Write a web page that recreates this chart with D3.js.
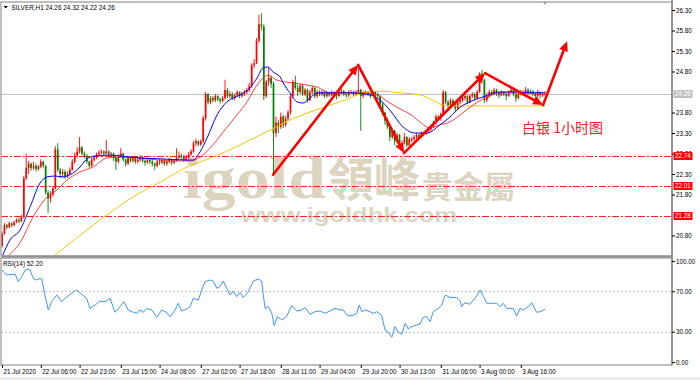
<!DOCTYPE html>
<html>
<head>
  <meta charset="utf-8">
  <title>SILVER H1</title>
  <style type="text/css">
    body { margin:0; background:#fff; }
    svg { display:block; font-family:"Liberation Sans", Arial, sans-serif; }
  </style>
</head>
<body>
<script src="https://cdnjs.cloudflare.com/ajax/libs/d3/7.8.5/d3.min.js"></script>
<svg id="chart" width="700" height="380"></svg>
<script>
// ---- data ----
// hourly bars, bar index 0..224 (open of a bar = close of previous bar)
var firstOpen = 20.55;
var closes = [
  20.85,21.05,21.0,21.1,21.05,21.12,21.18,21.15,21.25,22.2,
  22.45,22.55,22.45,22.5,22.42,22.48,22.6,22.5,21.85,21.7,
  21.8,21.95,22.9,22.4,22.3,22.35,22.25,22.3,22.4,22.6,
  22.75,22.85,22.95,22.8,22.75,22.6,22.5,22.65,22.7,22.78,
  22.82,22.85,22.8,22.85,22.78,22.8,22.7,22.6,22.72,22.8,
  22.65,22.55,22.7,22.62,22.68,22.6,22.65,22.7,22.62,22.58,
  22.65,22.6,22.55,22.5,22.6,22.58,22.62,22.55,22.6,22.65,
  22.58,22.62,22.7,22.75,22.72,22.65,22.7,22.78,22.85,23.05,
  23.1,23.02,23.1,23.66,24.25,24.05,24.15,24.1,24.2,24.12,
  24.08,24.15,24.35,24.2,24.25,24.15,24.22,24.3,24.2,24.25,
  24.3,24.35,24.45,24.95,25.0,25.55,25.95,25.9,24.2,24.55,
  24.65,24.5,23.3,23.55,23.45,23.7,23.5,23.65,23.8,24.2,
  24.55,24.4,24.3,24.45,24.25,24.35,24.1,24.3,24.4,24.2,
  24.3,24.25,24.3,24.2,24.28,24.22,24.3,24.25,24.2,24.28,
  24.32,24.25,24.22,24.3,24.3,24.25,24.3,24.35,24.2,24.28,
  24.3,24.25,24.22,24.3,24.25,24.2,24.0,23.8,23.6,23.45,
  23.2,23.35,23.1,23.25,23.0,23.05,23.2,23.0,23.15,23.15,
  23.2,23.25,23.2,23.3,23.28,23.35,23.4,23.45,23.55,23.7,
  23.65,23.75,24.3,24.05,23.95,24.1,24.0,23.9,24.05,24.1,
  24.15,24.2,24.05,24.2,24.25,24.15,24.3,24.75,24.6,24.1,
  24.2,24.3,24.25,24.35,24.28,24.22,24.3,24.25,24.2,24.3,
  24.35,24.25,24.15,24.25,24.3,24.28,24.35,24.3,24.32,24.25,
  24.2,24.3,24.22,24.26,24.26
];
var highs = [
  20.9,21.1,21.08,21.14,21.12,21.16,21.22,21.24,21.3,22.25,
  22.8,22.62,22.58,22.6,22.55,22.52,22.66,22.62,22.52,21.9,
  21.88,22.0,22.98,23.05,22.45,22.42,22.4,22.36,22.46,22.66,
  22.82,22.95,23.2,22.98,22.85,22.78,22.62,22.7,22.76,22.82,
  22.88,22.9,22.88,23.13,22.88,22.84,22.82,22.72,22.78,22.93,
  22.82,22.68,22.74,22.72,22.72,22.7,22.7,22.76,22.74,22.66,
  22.7,22.68,22.64,22.58,22.64,22.66,22.68,22.66,22.64,22.7,
  22.68,22.66,22.93,22.85,22.8,22.76,22.76,22.84,22.9,23.1,
  23.16,23.12,23.14,23.72,24.3,24.28,24.2,24.2,24.25,24.22,
  24.16,24.2,24.6,24.4,24.32,24.3,24.26,24.34,24.32,24.3,
  24.35,24.4,24.52,25.0,25.1,25.62,26.18,26.22,25.95,24.6,
  24.9,24.7,24.55,23.7,23.62,23.8,23.75,23.72,23.86,24.25,
  24.6,24.7,24.48,24.5,24.5,24.4,24.38,24.35,24.45,24.42,
  24.35,24.34,24.35,24.34,24.32,24.3,24.34,24.32,24.28,24.32,
  24.38,24.35,24.28,24.34,24.35,24.32,24.35,24.9,24.38,24.32,
  24.34,24.32,24.28,24.34,24.32,24.28,24.22,24.05,23.82,23.65,
  23.5,23.4,23.38,23.3,23.28,23.12,23.3,23.22,23.2,23.2,
  23.25,23.3,23.28,23.34,23.34,23.4,23.45,23.5,23.6,23.75,
  23.74,23.8,24.35,24.32,24.1,24.15,24.12,24.05,24.1,24.16,
  24.2,24.25,24.22,24.25,24.3,24.28,24.35,24.78,24.84,24.62,
  24.28,24.35,24.34,24.4,24.38,24.3,24.34,24.32,24.28,24.34,
  24.42,24.38,24.28,24.3,24.35,24.34,24.42,24.4,24.36,24.34,
  24.3,24.35,24.32,24.3,24.32
];
var lows = [
  20.5,20.82,20.95,20.98,21.0,21.02,21.1,21.1,21.12,21.22,
  22.15,22.3,22.38,22.4,22.36,22.38,22.44,22.45,21.8,21.35,
  21.6,21.75,21.92,22.35,22.2,22.22,22.18,22.2,22.28,22.38,
  22.55,22.7,22.8,22.75,22.68,22.55,22.45,22.48,22.6,22.66,
  22.75,22.78,22.74,22.78,22.72,22.72,22.62,22.4,22.56,22.7,
  22.6,22.48,22.52,22.58,22.58,22.55,22.56,22.6,22.58,22.5,
  22.55,22.54,22.48,22.4,22.46,22.52,22.54,22.5,22.5,22.56,
  22.52,22.54,22.6,22.66,22.65,22.6,22.62,22.66,22.74,22.82,
  22.98,22.98,22.98,23.05,23.6,24.0,24.0,24.05,24.05,24.08,
  24.02,24.05,24.12,24.15,24.15,24.1,24.1,24.18,24.15,24.16,
  24.2,24.25,24.3,24.4,24.88,24.98,25.5,25.8,24.1,24.15,
  24.45,24.4,22.28,23.2,23.3,23.4,23.42,23.45,23.6,23.75,
  24.15,24.35,24.2,24.25,24.2,24.2,24.05,24.08,24.25,24.15,
  24.15,24.2,24.2,24.15,24.16,24.18,24.2,24.2,24.12,24.18,
  24.24,24.2,24.16,24.18,24.25,24.2,24.2,24.28,23.35,24.15,
  24.22,24.2,24.15,24.2,24.2,24.15,23.95,23.75,23.5,23.4,
  23.1,23.15,23.0,23.05,22.96,22.95,23.02,22.96,22.98,23.08,
  23.1,23.15,23.15,23.18,23.22,23.25,23.3,23.35,23.42,23.5,
  23.6,23.6,23.72,24.0,23.9,23.92,23.95,23.82,23.86,24.0,
  24.05,24.1,24.0,24.02,24.15,24.1,24.12,24.28,24.5,24.03,
  24.05,24.15,24.2,24.22,24.2,24.15,24.2,24.2,24.1,24.18,
  24.28,24.2,24.06,24.12,24.22,24.2,24.25,24.25,24.25,24.2,
  24.12,24.18,24.15,24.18,24.22
];

// moving averages, [bar index, price]
var maFast = [[0,20.28],[3.3,20.69],[7.4,20.93],[11.6,21.5],[15.7,22.08],[18.6,22.23],[21.9,22.25],[25.2,22.23],[28.1,22.28],[32.2,22.47],[35.5,22.69],[39.2,22.74],[43.3,22.76],[48.7,22.74],[56.9,22.69],[65.2,22.67],[76.3,22.64],[78.8,22.64],[81.7,22.84],[84.6,23.18],[88.7,23.74],[92.8,24.06],[98.2,24.23],[102.3,24.4],[105.2,24.64],[107.7,24.89],[109.7,24.91],[111.8,24.79],[114.7,24.67],[116,24.52],[118.8,24.28],[121.7,24.06],[124.2,24.03],[127,24.15],[130,24.28],[135.3,24.28],[143.6,24.28],[151.8,24.23],[156,24.1],[160,23.86],[165.4,23.45],[170.4,23.3],[175.3,23.3],[180.7,23.5],[184.8,23.69],[189,23.93],[193,24.06],[198.4,24.18],[205.4,24.3],[212.5,24.3],[219,24.28],[224,24.28]];
var maSlow = [[2.1,20.28],[7.4,20.62],[12.8,21.25],[18.6,21.74],[22.7,21.91],[26.8,22.15],[32.2,22.35],[37.5,22.47],[43.3,22.69],[48.7,22.71],[56.9,22.69],[69.3,22.62],[77.6,22.62],[81.7,22.71],[85.8,22.93],[91.2,23.32],[96.9,23.74],[101.1,24.06],[104.4,24.4],[107.7,24.64],[109.7,24.71],[113.4,24.59],[120,24.52],[125.8,24.47],[130,24.42],[135.3,24.28],[148.9,24.28],[154.7,24.23],[160,24.03],[165.4,23.85],[168.3,23.76],[172.4,23.57],[176.6,23.42],[180.7,23.5],[184.8,23.57],[189,23.74],[194.3,23.98],[200.1,24.18],[205.4,24.28],[212.5,24.28],[224,24.23]];
var maLong = [[21,20.28],[33.4,20.86],[43.3,21.3],[54,21.74],[65.2,22.1],[76.3,22.47],[87,22.71],[98.2,23.01],[110.6,23.37],[118.8,23.62],[127,23.81],[135.3,23.98],[143.6,24.15],[148.9,24.28],[156,24.32],[164.2,24.28],[172.4,24.23],[177.8,24.1],[181.9,23.98],[186.9,23.96],[224,23.96]];

// RSI(14), [bar index, value]
var rsi = [[0,91.1],[1.9,86.1],[5.4,87.1],[6.7,79.5],[8.1,84.5],[9.9,92.1],[11.6,91.1],[12.9,82.8],[14.3,81.2],[15.7,82.8],[16.4,82.2],[17.7,66.3],[19.1,51.5],[20.5,59.7],[22.6,66.3],[24.6,59.7],[26,63],[28.1,67],[30.8,71.3],[32.9,67],[34.9,63],[36.3,53.1],[38.4,56.4],[40.4,60.4],[42.5,59.7],[44.6,63],[46.6,49.2],[48.7,54.8],[50.3,59.7],[52.1,51.5],[54.2,49.2],[55.6,48.2],[56.9,51.5],[58.3,49.2],[59.7,53.1],[61.8,51.5],[63.8,44.2],[65.9,51.5],[67.9,49.2],[69.3,44.9],[71.4,51.5],[72.7,58.1],[74.1,50.5],[76.2,52.5],[77.6,54.8],[78.9,63],[81,61.4],[82.4,71.3],[83.7,79.5],[85.8,81.2],[87.2,80.2],[88.6,72.9],[89.9,74.6],[91.3,80.2],[92.7,72.9],[94.1,66.3],[95.4,70.3],[96.8,64.7],[98.2,69],[99.5,63.7],[101.6,69.6],[103.7,80.2],[105.7,82.2],[107.1,80.2],[108.5,53.1],[109.9,54.8],[111.3,48.2],[112.3,36],[113.6,44.9],[115.4,41.6],[117.4,44.9],[119.5,55.8],[121.6,50.5],[123.6,51.5],[125,53.8],[127.1,47.2],[129.1,49.8],[131.2,50.5],[133.2,48.2],[135.3,50.5],[137.4,53.1],[139.4,51.5],[140.8,51.5],[142.2,46.5],[143.6,45.5],[144.9,46.5],[146.3,48.2],[147.4,56.4],[148.4,49.8],[149.8,51.5],[151.8,49.8],[153.2,48.2],[154.6,49.8],[156.6,46.5],[158,31.7],[159.4,29.4],[160.8,24.5],[162.1,35],[163.5,29.4],[164.9,27.4],[166.3,38.3],[167.6,32.7],[169,35],[171.1,36.6],[172.4,37.6],[173.8,44.2],[175.2,44.9],[176.6,39.9],[177.9,49.8],[180,53.1],[181.4,56.4],[182.8,66.3],[184.8,64],[187.6,63.7],[189,60.4],[189.6,54.8],[191,58.7],[193,57.1],[195.1,63],[196.5,68],[197.2,71.3],[198.6,64.7],[200,58.1],[202,58.1],[204.1,58.1],[205.4,54.8],[206.8,58.1],[208.2,53.1],[210.9,53.1],[212.3,45.5],[213.7,53.1],[215.1,51.5],[217.2,54.8],[218.5,58.7],[220.6,49.2],[222,49.8],[224,52.2]];

// horizontal levels and analyst arrows
var levels = [22.74, 22.01, 21.28];
var arrowPts = [[111.8,22.28],[146.9,24.96],[165.8,22.81],[199.3,24.76],[223.2,23.98],[233.1,25.54]];

// axis labels (24.30 and 21.30 sit under the price boxes)
var priceTicks = [26.3, 25.8, 25.3, 24.8, 23.8, 23.3, 22.8, 22.3, 21.8, 20.8];
var rsiTicks = [100, 70, 30, 0];
var rsiLevels = [70, 30];
var timeIdx = [0,16,32,49,65,82,98,115,131,148,164,181,197,214];
var timeLabels = ['21 Jul 2020','22 Jul 06:00','22 Jul 23:00','23 Jul 15:00','24 Jul 08:00','27 Jul 02:00','27 Jul 18:00','28 Jul 11:00','29 Jul 04:00','29 Jul 20:00','30 Jul 13:00','31 Jul 06:00','3 Aug 00:00','3 Aug 16:00'];

// ---- layout ----
var axisX = 672, mainT = 2, mainB = 256, rsiT = 258, rsiB = 365;
var svg = d3.select('#chart');
var fmt = d3.format('.2f');

var x = d3.scaleLinear().domain([0, 224]).range([2, 545]);
var y = d3.scaleLinear().domain([20.8, 26.3]).range([235.5, 10]);
var yr = d3.scaleLinear().domain([0, 100]).range([362, 261]);

var defs = svg.append('defs');
defs.append('clipPath').attr('id','clipMain').append('rect')
  .attr('x',1.5).attr('y',mainT+0.5).attr('width',axisX-2).attr('height',mainB-mainT-1.5);
defs.append('clipPath').attr('id','clipRsi').append('rect')
  .attr('x',1.5).attr('y',rsiT+0.5).attr('width',axisX-2).attr('height',rsiB-rsiT-1);

var bars = closes.map(function(c,i){
  return {i:i, o: i==0 ? firstOpen : closes[i-1], h:highs[i], l:lows[i], c:c};
});

// ---- main panel ----
var main = svg.append('g').attr('clip-path','url(#clipMain)');

// watermark
var wm = main.append('g').attr('fill','#ddd4bf');
wm.append('text').attr('x',183).attr('y',198)
  .attr('font-family','"Liberation Serif", serif').attr('font-weight','bold')
  .attr('font-size',60).attr('textLength',143).attr('lengthAdjust','spacingAndGlyphs')
  .text('igold');
wm.append('text').attr('x',328).attr('y',196)
  .attr('font-family','"Noto Sans CJK TC"').attr('font-weight','bold').attr('font-size',46)
  .text('領峰');
wm.append('text').attr('x',422).attr('y',198)
  .attr('font-family','"Noto Sans CJK TC"').attr('font-weight','bold').attr('font-size',31)
  .text('貴金屬');
wm.append('text').attr('x',241).attr('y',222)
  .attr('font-family','"Liberation Sans", sans-serif').attr('font-weight','bold')
  .attr('font-size',21).attr('textLength',216).attr('lengthAdjust','spacingAndGlyphs')
  .text('www.igoldhk.com');

// dash-dot levels
main.selectAll('line.level').data(levels).enter().append('line')
  .attr('class','level')
  .attr('x1',1).attr('x2',axisX)
  .attr('y1',function(d){ return Math.round(y(d))+0.5; })
  .attr('y2',function(d){ return Math.round(y(d))+0.5; })
  .attr('stroke','#ff2020').attr('stroke-width',1)
  .attr('stroke-dasharray','7,2,2,2');

// bid line
var last = bars[bars.length-1];
main.append('line')
  .attr('x1',1).attr('x2',axisX)
  .attr('y1',Math.round(y(last.c))+0.5).attr('y2',Math.round(y(last.c))+0.5)
  .attr('stroke','#c0c0c0').attr('stroke-width',1);

// candles
var cg = main.append('g');
var upCol = '#ff0000', dnCol = '#008000';
cg.selectAll('line.wick').data(bars).enter().append('line')
  .attr('class','wick')
  .attr('x1',function(d){ return x(d.i); }).attr('x2',function(d){ return x(d.i); })
  .attr('y1',function(d){ return y(Math.max(d.h,d.o,d.c)); })
  .attr('y2',function(d){ return y(Math.min(d.l,d.o,d.c)); })
  .attr('stroke',function(d){ return d.c >= d.o ? upCol : dnCol; })
  .attr('stroke-width',0.9);
cg.selectAll('rect.body').data(bars).enter().append('rect')
  .attr('class','body')
  .attr('x',function(d){ return x(d.i)-0.85; })
  .attr('width',1.7)
  .attr('y',function(d){ return y(Math.max(d.o,d.c)); })
  .attr('height',function(d){ return Math.max(1, Math.abs(y(d.o)-y(d.c))); })
  .attr('fill',function(d){ return d.c >= d.o ? upCol : dnCol; });

// moving averages
var maLine = d3.line()
  .x(function(d){ return x(d[0]); })
  .y(function(d){ return y(d[1]); })
  .curve(d3.curveMonotoneX);
main.append('path').datum(maLong).attr('d',maLine)
  .attr('fill','none').attr('stroke','#f7c600').attr('stroke-width',1);
main.append('path').datum(maSlow).attr('d',maLine)
  .attr('fill','none').attr('stroke','#ff2a2a').attr('stroke-width',0.9);
main.append('path').datum(maFast).attr('d',maLine)
  .attr('fill','none').attr('stroke','#0000ff').attr('stroke-width',1);

// analyst arrows
var ag = main.append('g').attr('fill','#ff0000').attr('stroke','#ff0000');
for (var k = 1; k < arrowPts.length; k++) {
  var p0 = [x(arrowPts[k-1][0]), y(arrowPts[k-1][1])];
  var p1 = [x(arrowPts[k][0]), y(arrowPts[k][1])];
  var a = Math.atan2(p1[1]-p0[1], p1[0]-p0[0]);
  var hl = 10, hw = 4.5;
  ag.append('line')
    .attr('x1',p0[0]).attr('y1',p0[1])
    .attr('x2',p1[0]-Math.cos(a)*hl*0.7).attr('y2',p1[1]-Math.sin(a)*hl*0.7)
    .attr('stroke-width',2.6).attr('stroke-linecap','round');
  var bx = p1[0]-Math.cos(a)*hl, by = p1[1]-Math.sin(a)*hl;
  ag.append('path')
    .attr('stroke','none')
    .attr('d','M'+p1[0]+','+p1[1]+
      'L'+(bx+Math.sin(a)*hw)+','+(by-Math.cos(a)*hw)+
      'L'+(bx-Math.sin(a)*hw)+','+(by+Math.cos(a)*hw)+'Z');
}

// annotation text
svg.append('text').attr('x',522).attr('y',133)
  .attr('font-family','"Noto Sans CJK SC"').attr('font-size',14)
  .attr('fill','#ee1c25')
  .text('白银 1小时图');

// title
svg.append('path').attr('d','M3.5,6 L8,6 L5.75,8.6 Z').attr('fill','#000');
svg.append('text').attr('x',11.5).attr('y',10)
  .attr('font-size',6.4).attr('fill','#000')
  .text('SILVER,H1  ' + [last.o, last.h, last.l, last.c].map(fmt).join(' '));

// ---- RSI panel ----
var rp = svg.append('g').attr('clip-path','url(#clipRsi)');
rp.selectAll('line.rl').data(rsiLevels).enter().append('line')
  .attr('class','rl')
  .attr('x1',1).attr('x2',axisX)
  .attr('y1',function(d){ return Math.round(yr(d))+0.5; })
  .attr('y2',function(d){ return Math.round(yr(d))+0.5; })
  .attr('stroke','#c0c0c0').attr('stroke-dasharray','2,2');
rp.append('path').datum(rsi)
  .attr('d', d3.line().x(function(d){ return x(d[0]); }).y(function(d){ return yr(d[1]); }))
  .attr('fill','none').attr('stroke','#3d94ff').attr('stroke-width',1);
svg.append('text').attr('x',3).attr('y',266)
  .attr('font-size',6.4).attr('fill','#000')
  .text('RSI(14) ' + fmt(rsi[rsi.length-1][1]));

// ---- frames ----
svg.append('rect').attr('x',1).attr('y',mainT).attr('width',axisX-1).attr('height',mainB-mainT)
  .attr('fill','none').attr('stroke','#808080').attr('stroke-width',1);
svg.append('line').attr('x1',1).attr('x2',axisX).attr('y1',mainB+0.5).attr('y2',mainB+0.5)
  .attr('stroke','#909090').attr('stroke-width',2);
svg.append('rect').attr('x',1).attr('y',rsiT).attr('width',axisX-1).attr('height',rsiB-rsiT)
  .attr('fill','none').attr('stroke','#808080').attr('stroke-width',1);
svg.append('line').attr('x1',axisX).attr('x2',axisX).attr('y1',0).attr('y2',rsiB)
  .attr('stroke','#8a8a8a').attr('stroke-width',1.6);
svg.append('rect').attr('x',0).attr('y',377).attr('width',700).attr('height',3).attr('fill','#ececec');
svg.append('path').attr('d','M543,2 L547,2 L545,5 Z').attr('fill','#a0a0a0');

// ---- axes ----
function styleAxis(g){
  g.select('.domain').remove();
  g.attr('font-size',6.3).attr('font-family','"Liberation Sans", Arial, sans-serif');
  g.selectAll('line').attr('stroke','#000');
}
svg.append('g').attr('transform','translate('+axisX+',0)')
  .call(d3.axisRight(y).tickValues(priceTicks).tickSize(3).tickPadding(1).tickFormat(fmt))
  .call(styleAxis);
svg.append('g').attr('transform','translate('+axisX+',0)')
  .call(d3.axisRight(yr).tickValues(rsiTicks).tickSize(3).tickPadding(1).tickFormat(fmt))
  .call(styleAxis);
var xa = svg.append('g').attr('transform','translate(0,'+rsiB+')')
  .call(d3.axisBottom(x).tickValues(timeIdx).tickSize(3).tickPadding(2)
    .tickFormat(function(d,k){ return timeLabels[k]; }))
  .call(styleAxis);
xa.selectAll('text').attr('text-anchor','start').attr('x',1);

// price boxes on the axis
var boxes = levels.map(function(v){ return {v:v, fill:'#ff0000', txt:'#fff'}; });
boxes.push({v:last.c, fill:'#c0c0c0', txt:'#fff'});
var bg = svg.selectAll('g.pbox').data(boxes).enter().append('g').attr('class','pbox')
  .attr('transform',function(d){ return 'translate('+(axisX+1.5)+','+Math.round(y(d.v))+')'; });
bg.append('rect').attr('x',0).attr('y',-4).attr('width',19).attr('height',8)
  .attr('fill',function(d){ return d.fill; });
bg.append('text').attr('x',1.5).attr('y',2.3).attr('font-size',6.3)
  .attr('fill',function(d){ return d.txt; })
  .text(function(d){ return fmt(d.v); });
</script>
</body>
</html>
